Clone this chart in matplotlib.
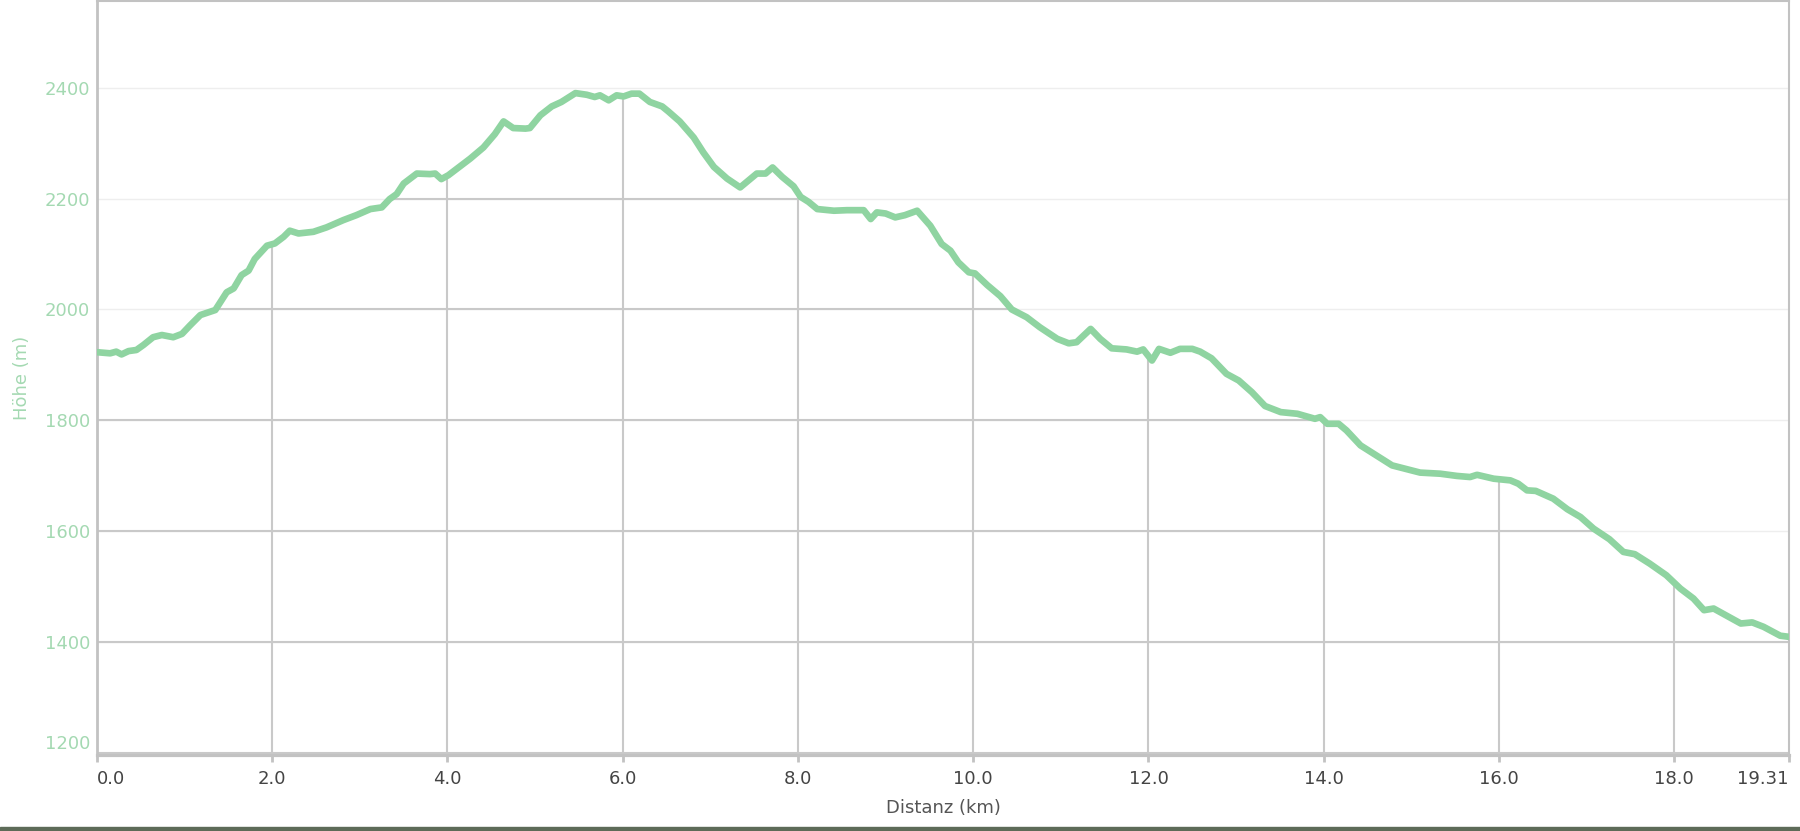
import matplotlib
matplotlib.use("Agg")
import matplotlib.pyplot as plt
from matplotlib.patches import Rectangle

# Elevation profile
distance_km = [
    0.0, 0.15, 0.22, 0.28, 0.36, 0.45, 0.53, 0.64, 0.74, 0.87,
    0.97, 1.06, 1.18, 1.35, 1.48, 1.56, 1.65, 1.73, 1.80, 1.94,
    2.03, 2.13, 2.20, 2.30, 2.47, 2.62, 2.81, 2.96, 3.12, 3.25,
    3.34, 3.42, 3.50, 3.65, 3.80, 3.86, 3.93, 4.01, 4.11, 4.26,
    4.41, 4.54, 4.64, 4.75, 4.89, 4.94, 5.06, 5.19, 5.30, 5.46,
    5.59, 5.68, 5.74, 5.84, 5.93, 6.01, 6.10, 6.19, 6.31, 6.45,
    6.52, 6.65, 6.81, 6.92, 7.04, 7.19, 7.34, 7.53, 7.63, 7.71,
    7.82, 7.95, 8.03, 8.12, 8.22, 8.41, 8.56, 8.75, 8.83, 8.90,
    9.00, 9.11, 9.22, 9.36, 9.51, 9.64, 9.74, 9.83, 9.95, 10.02,
    10.16, 10.31, 10.44, 10.61, 10.76, 10.96, 11.09, 11.18, 11.34, 11.45,
    11.58, 11.75, 11.87, 11.94, 12.04, 12.12, 12.25, 12.36, 12.50, 12.59,
    12.72, 12.89, 13.03, 13.18, 13.33, 13.51, 13.70, 13.90, 13.96, 14.04,
    14.17, 14.26, 14.42, 14.61, 14.78, 14.95, 15.10, 15.33, 15.52, 15.67,
    15.75, 15.94, 16.13, 16.22, 16.32, 16.42, 16.62, 16.78, 16.93, 17.08,
    17.26, 17.42, 17.55, 17.72, 17.91, 18.07, 18.22, 18.34, 18.45, 18.60,
    18.76, 18.89, 19.02, 19.21, 19.31,
]
elevation_m = [
    1923, 1921, 1924, 1919, 1925, 1927, 1936, 1950, 1954, 1950,
    1956, 1971, 1990, 1999, 2031, 2038, 2062, 2070, 2091, 2115,
    2119, 2131, 2142, 2137, 2140, 2148, 2161, 2170, 2181, 2184,
    2199, 2208, 2227, 2245, 2244, 2245, 2235, 2242, 2254, 2272,
    2292, 2316, 2339, 2327, 2326, 2327, 2350, 2366, 2374, 2390,
    2387, 2383, 2386, 2377, 2386, 2384, 2389, 2389, 2374, 2366,
    2357, 2339, 2310, 2283, 2257, 2236, 2220, 2245, 2245, 2256,
    2239, 2222, 2203, 2194, 2181, 2178, 2179, 2179, 2163, 2175,
    2173, 2166, 2170, 2178, 2151, 2118, 2106, 2085, 2067, 2065,
    2044, 2024, 2000, 1986, 1968, 1947, 1939, 1941, 1965, 1947,
    1930, 1928, 1924, 1928, 1908, 1929, 1922, 1929, 1929, 1924,
    1912, 1884, 1872, 1851, 1826, 1815, 1812, 1803, 1806, 1794,
    1794, 1782, 1755, 1736, 1719, 1712, 1706, 1704, 1700, 1698,
    1702, 1695, 1692, 1686, 1674, 1673, 1659, 1640, 1626, 1605,
    1586, 1563, 1559, 1542, 1521, 1497, 1479, 1458, 1461, 1448,
    1434, 1436, 1428, 1412, 1410,
]

x_ticks = [0, 2, 4, 6, 8, 10, 12, 14, 16, 18, 19.31]
x_labels = ["0.0", "2.0", "4.0", "6.0", "8.0", "10.0", "12.0", "14.0",
            "16.0", "18.0", "19.31"]
y_ticks = [1200, 1400, 1600, 1800, 2000, 2200, 2400]

LINE = "#8fd4a1"
GREEN_TEXT = "#a4d9b2"
GRID = "#c9c9c9"
FAINT = "#eeeeee"
SPINE = "#c2c2c2"

fig = plt.figure(figsize=(18, 8.31), dpi=100)
ax = fig.add_axes([97 / 1800, 76 / 831, 1692 / 1800, 754 / 831])

x_min, x_max = 0, 19.31
y_min, y_max = 1197, 2556
ax.set_xlim(x_min, x_max)
ax.set_ylim(y_min, y_max)

# faint grid everywhere
ax.hlines(y_ticks, x_min, x_max, colors=FAINT, linewidth=1.0, zorder=1)

# darker grid only below the profile
area = ax.fill_between(distance_km, elevation_m, y_min, color="none",
                       linewidth=0, zorder=1)
clip = area.get_paths()[0]
h = ax.hlines(y_ticks, x_min, x_max, colors=GRID, linewidth=1.5, zorder=2)
v = ax.vlines(x_ticks[1:-1], y_min, y_max, colors=GRID, linewidth=1.5, zorder=2)
h.set_clip_path(clip, ax.transData)
v.set_clip_path(clip, ax.transData)

ax.plot(distance_km, elevation_m, color=LINE, linewidth=4.8,
        solid_joinstyle="round", solid_capstyle="round", zorder=3)

ax.set_xticks(x_ticks)
ax.set_xticklabels(x_labels)
ax.set_yticks(y_ticks)
ax.set_yticklabels([str(t) for t in y_ticks])
ax.tick_params(axis="x", colors=SPINE, labelcolor="#444444", labelsize=13,
               length=5, width=2, direction="out", pad=6)
ax.tick_params(axis="y", length=0, labelcolor=GREEN_TEXT, labelsize=13, pad=5)

xl = ax.get_xticklabels()
xl[0].set_horizontalalignment("left")
xl[-1].set_horizontalalignment("right")
ax.get_yticklabels()[0].set_verticalalignment("bottom")

ax.set_xlabel("Distanz (km)", fontsize=13, color="#555555", labelpad=8)
ax.set_ylabel("Höhe (m)", fontsize=13, color=GREEN_TEXT, labelpad=10)

for side, lw in [("left", 2.0), ("bottom", 2.3), ("right", 1.5), ("top", 1.5)]:
    ax.spines[side].set_color(SPINE)
    ax.spines[side].set_linewidth(lw)

# dark strip of the surrounding screenshot at the bottom
fig.patches.append(Rectangle((0, 0), 1, 4 / 831, transform=fig.transFigure,
                             color="#5d6b58", zorder=0))

fig.savefig("out.png", dpi=100)
